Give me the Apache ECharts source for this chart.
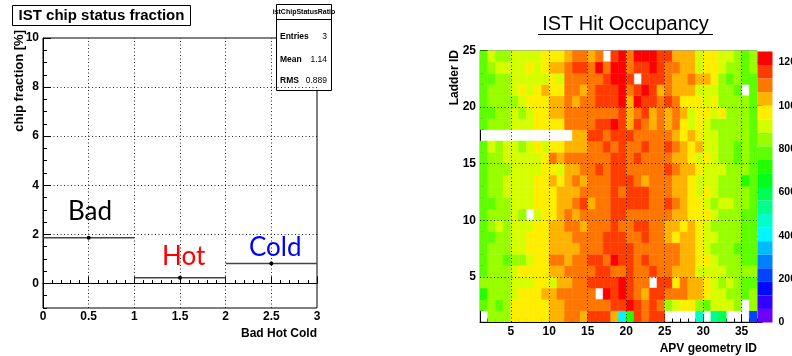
<!DOCTYPE html>
<html><head><meta charset="utf-8">
<script src="https://cdn.jsdelivr.net/npm/echarts@6/dist/echarts.min.js"></script>
<style>html,body{margin:0;padding:0;background:#fff}#c{width:792px;height:356px}</style>
</head><body><div id="c"></div><script>
// ---------- left panel data ----------
const binLabels = ['Bad', 'Hot', 'Cold'];
const binLow = [0, 1, 2];
const binHigh = [1, 2, 3];
const chipFraction = [1.86, 0.23, 0.81];
const statsName = 'istChipStatusRatio';
const statsLabels = ['Entries', 'Mean', 'RMS'];
const statsValues = ['3', '1.14', '0.889'];
const fracTicks = [0, 2, 4, 6, 8, 10];

// ---------- right panel data (hit occupancy per APV x ladder) ----------
const apvTicks = [5, 10, 15, 20, 25, 30, 35];
const ladderTicks = [5, 10, 15, 20, 25];
const colorTicks = [0, 200, 400, 600, 800, 1000, 1200];
const ladder24 = [780,905,845,845,905,905,905,905,970,970,970,1030,1095,1095,1030,1095,0,1155,1220,1095,1220,1220,1220,1155,1155,1030,1030,1030,905,970,970,905,905,845,780,845];
const ladder23 = [780,845,905,905,905,905,970,905,970,1030,1030,1095,1155,1155,1095,1220,1095,1220,1220,1095,1155,1155,1220,1155,1095,1095,1030,1030,905,970,970,905,845,845,780,845];
const ladder22 = [780,780,845,845,905,905,905,905,905,970,905,1095,1095,1095,1095,1095,1155,1220,1220,1155,0,1155,1155,1155,1095,1030,1030,1095,1030,1030,970,845,780,845,780,780];
const ladder21 = [780,845,845,845,905,970,905,970,1030,970,970,1095,1095,1030,1095,1155,1155,1155,1220,1095,1155,1220,1155,1030,1095,1030,1030,1030,905,905,905,845,845,780,0,780];
const ladder20 = [780,845,845,845,845,905,970,970,970,1030,1030,1095,1030,1095,1095,1155,1155,1155,1220,1030,1220,1155,1155,1095,1155,1095,970,970,970,905,970,845,845,845,845,780];
const ladder19 = [780,780,845,845,905,845,905,970,970,1030,1030,1095,1095,1095,1095,1095,1095,1095,1155,1030,1095,1155,1030,1095,1030,1095,1030,905,970,970,905,970,845,845,845,780];
const ladder18 = [780,845,845,845,905,905,905,970,970,970,970,1095,1095,1095,1095,1155,1155,1220,1155,1030,1155,1095,1030,1095,1030,1095,970,905,970,905,845,845,845,845,845,780];
const ladder17 = [0,0,0,0,0,0,0,0,0,0,0,0,1030,1030,1155,1155,1095,1155,1155,1155,1095,1095,1095,1095,1095,1030,970,1030,970,905,905,845,845,845,845,780];
const ladder16 = [780,905,845,905,905,845,905,970,905,970,970,1030,1030,1030,1095,1095,1155,1095,1155,1095,1095,1155,1095,1095,1155,1095,1030,970,1030,905,905,845,845,780,845,780];
const ladder15 = [780,845,845,905,905,905,905,905,970,1095,1030,1095,1095,1095,1095,1095,1095,1155,1155,1095,1155,1095,1095,1095,1095,1030,1030,970,905,970,905,845,845,780,845,780];
const ladder14 = [780,845,845,845,905,905,905,905,970,970,905,1030,1030,1095,1095,1155,1095,1155,1155,1095,1095,1095,1095,1095,1155,1095,1030,1030,970,905,905,905,845,845,845,780];
const ladder13 = [780,845,845,905,905,905,905,970,970,1030,970,1030,1095,1030,1095,1095,1095,1155,1155,1155,1095,1030,1095,1095,1095,1030,1030,970,905,905,905,845,845,845,720,780];
const ladder12 = [780,845,845,905,905,905,905,970,970,970,1030,1030,1030,1095,1095,1095,1095,1155,1095,1155,1155,1155,1095,1095,1095,1030,1030,970,905,970,905,845,845,845,845,780];
const ladder11 = [780,780,845,845,905,905,905,970,970,970,1030,1030,1095,1155,1030,1095,1095,1155,1155,1155,1155,1155,1095,1095,1155,1095,1030,970,970,905,845,905,905,845,845,780];
const ladder10 = [780,845,845,845,905,845,0,905,970,970,1030,1095,1030,1095,1095,1095,1095,1155,1155,1095,1095,1095,1095,1095,1095,1030,1030,970,970,970,905,845,845,845,780,780];
const ladder09 = [780,845,905,845,905,905,905,970,970,1030,1030,1095,1095,1030,1095,1095,1095,1155,1095,1095,1155,1155,1095,1095,1030,1030,970,1030,970,905,845,845,845,845,780,780];
const ladder08 = [780,780,845,845,905,905,970,970,970,1030,1030,1030,1095,1095,1095,1095,1155,1155,1155,1095,1095,1155,1095,1095,1030,970,1030,1030,970,905,905,845,845,845,780,780];
const ladder07 = [780,845,845,845,905,905,970,970,970,1030,1030,1030,1030,1095,1095,1095,1155,1155,1155,1155,1095,1095,1095,1095,1095,1095,1030,1030,970,905,845,845,845,780,780,780];
const ladder06 = [780,845,845,780,845,845,905,970,970,1095,1095,1030,1095,1095,1155,1155,1095,1220,1155,1155,1095,1155,1095,1095,1095,1095,1030,1030,970,970,905,845,845,845,780,780];
const ladder05 = [780,845,845,845,905,970,970,970,970,1030,1030,1095,1095,1095,1095,1155,1155,1095,1095,1155,1095,1095,1155,1095,1095,1030,1030,1030,905,905,905,905,845,845,845,845];
const ladder04 = [845,845,845,845,905,905,905,970,970,905,1030,1030,1095,1095,1155,1155,1155,1155,1220,1155,1095,1095,0,1155,1155,970,1095,1030,1030,970,905,845,905,845,780,780];
const ladder03 = [720,845,845,845,905,970,970,970,1030,1030,1095,1095,1095,1095,1095,0,1220,1155,1220,1155,1095,1030,1155,1155,1095,1095,1095,1030,1030,970,905,905,845,845,780,845];
const ladder02 = [780,845,780,845,970,970,970,970,970,1030,1030,1095,1095,1095,1095,1095,1095,1155,1155,1220,1155,1095,1155,1095,845,905,970,970,845,780,905,905,905,845,0,845];
const ladder01 = [0,845,845,845,970,970,970,970,970,1030,1030,1095,1095,1030,1155,1155,1155,1030,400,690,1155,1095,1155,1155,0,0,0,0,470,0,530,590,0,0,0,220];
const ladders = [ladder01, ladder02, ladder03, ladder04, ladder05, ladder06, ladder07, ladder08,
  ladder09, ladder10, ladder11, ladder12, ladder13, ladder14, ladder15, ladder16,
  ladder17, ladder18, ladder19, ladder20, ladder21, ladder22, ladder23, ladder24];

// ---------- styling ----------
const palette = ['#6e00ff','#3300ff','#0009ff','#0044ff','#0080ff','#00bbff','#00f7ff','#00ffcc','#00ff91','#00ff55',
  '#00ff1a','#22ff00','#5eff00','#99ff00','#d5ff00','#ffee00','#ffb300','#ff7700','#ff3c00','#ff0000'];
const FONT = '"Liberation Sans", Arial, Helvetica, sans-serif';
const lbl = {fontFamily: FONT, fontWeight: 'bold', fontSize: 12, color: '#000'};
const dotted = {color: '#000', width: 1, type: [1, 2.5], opacity: 0.85};
const plainNum = v => String(v);

// build data from arrays
const histData = chipFraction.map((v, i) => [binLow[i], binHigh[i], v]);
const heatData = [];
ladders.forEach((row, j) => row.forEach((v, i) => { if (v > 0) heatData.push([i + 1, j + 1, v]); }));

const chart = echarts.init(document.getElementById('c'), null, {renderer: 'canvas'});

function renderHist(params, api) {
  const lo = api.value(0), hi = api.value(1), v = api.value(2);
  const a = api.coord([lo, v]), b = api.coord([hi, v]), m = api.coord([(lo + hi) / 2, v]);
  return {type: 'group', children: [
    {type: 'line', shape: {x1: a[0], y1: a[1], x2: b[0], y2: b[1]}, style: {stroke: '#444', lineWidth: 1.6}},
    {type: 'circle', shape: {cx: m[0], cy: m[1], r: 2}, style: {fill: '#000'}}
  ]};
}
function renderCell(params, api) {
  const x = api.value(0), y = api.value(1);
  const p0 = api.coord([x, y + 1]), p1 = api.coord([x + 1, y]);
  const c = api.visual('color');
  return {type: 'rect', shape: {x: p0[0], y: p0[1], width: p1[0] - p0[0], height: p1[1] - p0[1]},
    style: {fill: c, stroke: c, lineWidth: 0.5}};
}

const option = {
  animation: false,
  backgroundColor: '#fff',
  grid: [
    {left: 43, top: 38, width: 274, height: 270, show: true, borderColor: '#000', borderWidth: 1, backgroundColor: 'transparent', outerBoundsMode: 'none', containLabel: false},
    {left: 480, top: 50.5, width: 277, height: 271.5, show: true, borderColor: '#999', borderWidth: 1, backgroundColor: 'transparent', outerBoundsMode: 'none', containLabel: false},
    {left: 757.5, top: 51.5, width: 15, height: 271, outerBoundsMode: 'none', containLabel: false}
  ],
  xAxis: [
    {gridIndex: 0, type: 'value', min: 0, max: 3, interval: 0.5,
      axisLine: {lineStyle: {color: '#000'}}, axisTick: {inside: true, length: 7, lineStyle: {color: '#000'}},
      minorTick: {show: true, splitNumber: 5, length: 3.5, lineStyle: {color: '#000'}},
      axisLabel: Object.assign({margin: 3, formatter: plainNum}, lbl), splitLine: {show: false}},
    {gridIndex: 1, type: 'value', min: 1, max: 37, interval: 1,
      axisLine: {lineStyle: {color: '#000'}}, axisTick: {inside: true, length: 3.5, lineStyle: {color: '#000'}},
      axisLabel: {show: false}, splitLine: {show: false}},
    {gridIndex: 1, type: 'value', min: 1, max: 37, position: 'bottom',
      axisLine: {show: false}, axisTick: {inside: true, length: 7, customValues: apvTicks, lineStyle: {color: '#000'}},
      axisLabel: Object.assign({margin: 4, customValues: apvTicks, formatter: plainNum}, lbl), splitLine: {show: false}},
    {gridIndex: 2, type: 'value', min: 0, max: 1, show: false}
  ],
  yAxis: [
    {gridIndex: 0, type: 'value', min: -1, max: 10, interval: 0.5, position: 'left',
      axisLine: {show: true, lineStyle: {color: '#000'}}, axisTick: {inside: true, length: 4, lineStyle: {color: '#000'}},
      axisLabel: {show: false}, splitLine: {show: false}},
    {gridIndex: 0, type: 'value', min: -1, max: 10, position: 'left',
      axisLine: {show: false}, axisTick: {inside: true, length: 8, customValues: fracTicks, lineStyle: {color: '#000'}},
      axisLabel: Object.assign({margin: 4, customValues: fracTicks, formatter: plainNum}, lbl), splitLine: {show: false}},
    {gridIndex: 1, type: 'value', min: 1, max: 25, interval: 1, position: 'left',
      axisLine: {show: true, lineStyle: {color: '#000'}}, axisTick: {inside: true, length: 4, lineStyle: {color: '#000'}},
      axisLabel: {show: false}, splitLine: {show: false}},
    {gridIndex: 1, type: 'value', min: 1, max: 25, position: 'left',
      axisLine: {show: false}, axisTick: {inside: true, length: 8, customValues: ladderTicks, lineStyle: {color: '#000'}},
      axisLabel: Object.assign({margin: 4, customValues: ladderTicks, formatter: plainNum}, lbl), splitLine: {show: false}},
    {gridIndex: 2, type: 'value', min: 0, max: 1250, position: 'right',
      axisLine: {show: false}, axisTick: {show: true, inside: false, length: 5, customValues: colorTicks, lineStyle: {color: '#000'}},
      axisLabel: Object.assign({}, lbl, {margin: 6, fontSize: 10.5, customValues: colorTicks, formatter: plainNum, align: 'left', hideOverlap: false}), splitLine: {show: false}}
  ],
  visualMap: {
    type: 'piecewise', min: 0, max: 1250, splitNumber: 20, seriesIndex: 2, dimension: 2,
    inRange: {color: palette}, itemSymbol: 'rect', itemWidth: 15, itemHeight: 13.55, itemGap: 0,
    showLabel: false, orient: 'vertical', left: 757.5, top: 51.5, padding: 0, hoverLink: false, selectedMode: false
  },
  series: [
    {type: 'custom', xAxisIndex: 0, yAxisIndex: 0, data: [], renderItem: () => null, silent: true,
      markLine: {silent: true, symbol: 'none', label: {show: false}, lineStyle: dotted, animation: false,
        data: [0.5, 1, 1.5, 2, 2.5].map(v => ({xAxis: v})).concat([0, 2, 4, 6, 8].map(v => ({yAxis: v})))}},
    {type: 'custom', xAxisIndex: 0, yAxisIndex: 0, z: 10, data: histData, renderItem: renderHist,
      encode: {x: [0, 1], y: 2}},
    {type: 'custom', xAxisIndex: 1, yAxisIndex: 2, data: heatData, renderItem: renderCell,
      encode: {x: 0, y: 1}, clip: true,
      markLine: {silent: true, symbol: 'none', label: {show: false}, lineStyle: dotted, animation: false,
        data: apvTicks.map(v => ({xAxis: v})).concat([5, 10, 15, 20].map(v => ({yAxis: v})))}}
  ],
  graphic: [
    {type: 'rect', shape: {x: 12.5, y: 5.5, width: 178, height: 20}, style: {fill: '#fff', stroke: '#000', lineWidth: 1}},
    {type: 'text', x: 101.5, y: 16, style: {text: 'IST chip status fraction', font: 'bold 15px ' + FONT, textAlign: 'center', textVerticalAlign: 'middle', fill: '#000'}},
    // stats box
    {type: 'rect', shape: {x: 276.5, y: 4.5, width: 55, height: 86}, style: {fill: '#fff', stroke: '#000', lineWidth: 1}},
    {type: 'line', shape: {x1: 276.5, y1: 19.5, x2: 331.5, y2: 19.5}, style: {stroke: '#000', lineWidth: 1}},
    {type: 'text', x: 304, y: 12, style: {text: statsName, font: 'bold 7px ' + FONT, textAlign: 'center', textVerticalAlign: 'middle', fill: '#000'}},
    {type: 'text', x: 280, y: 37, style: {text: statsLabels[0], font: 'bold 8.5px ' + FONT, textVerticalAlign: 'middle', fill: '#000'}},
    {type: 'text', x: 327, y: 37, style: {text: statsValues[0], font: '8.5px ' + FONT, textAlign: 'right', textVerticalAlign: 'middle', fill: '#000'}},
    {type: 'text', x: 280, y: 60, style: {text: statsLabels[1], font: 'bold 8.5px ' + FONT, textVerticalAlign: 'middle', fill: '#000'}},
    {type: 'text', x: 327, y: 60, style: {text: statsValues[1], font: '8.5px ' + FONT, textAlign: 'right', textVerticalAlign: 'middle', fill: '#000'}},
    {type: 'text', x: 280, y: 81, style: {text: statsLabels[2], font: 'bold 8.5px ' + FONT, textVerticalAlign: 'middle', fill: '#000'}},
    {type: 'text', x: 327, y: 81, style: {text: statsValues[2], font: '8.5px ' + FONT, textAlign: 'right', textVerticalAlign: 'middle', fill: '#000'}},
    // axis titles
    {type: 'text', x: 19, y: 30, rotation: Math.PI / 2, style: {text: 'chip fraction [%]', font: 'bold 13px ' + FONT, textAlign: 'right', textVerticalAlign: 'middle', fill: '#000'}},
    {type: 'text', x: 317, y: 334, style: {text: 'Bad Hot Cold', font: 'bold 12px ' + FONT, textAlign: 'right', textVerticalAlign: 'middle', fill: '#000'}},
    // in-plot annotations
    {type: 'text', x: 68, y: 212, style: {text: binLabels[0], font: '26px Lato, "Open Sans", sans-serif', textVerticalAlign: 'middle', fill: '#000'}},
    {type: 'text', x: 162, y: 257, style: {text: binLabels[1], font: '26px Lato, "Open Sans", sans-serif', textVerticalAlign: 'middle', fill: '#ff0000'}},
    {type: 'text', x: 249, y: 248, style: {text: binLabels[2], font: '26px Lato, "Open Sans", sans-serif', textVerticalAlign: 'middle', fill: '#0000ff'}},
    // right panel titles
    {type: 'text', x: 625.5, y: 24, style: {text: 'IST Hit Occupancy', font: '20px ' + FONT, textAlign: 'center', textVerticalAlign: 'middle', fill: '#000'}},
    {type: 'line', shape: {x1: 538, y1: 34.5, x2: 713, y2: 34.5}, style: {stroke: '#000', lineWidth: 1}},
    {type: 'text', x: 455, y: 50, rotation: Math.PI / 2, style: {text: 'Ladder ID', font: 'bold 12px ' + FONT, textAlign: 'right', textVerticalAlign: 'middle', fill: '#000'}},
    {type: 'text', x: 757, y: 349, style: {text: 'APV geometry ID', font: 'bold 12px ' + FONT, textAlign: 'right', textVerticalAlign: 'middle', fill: '#000'}}
  ]
};
chart.setOption(option);
</script></body></html>
